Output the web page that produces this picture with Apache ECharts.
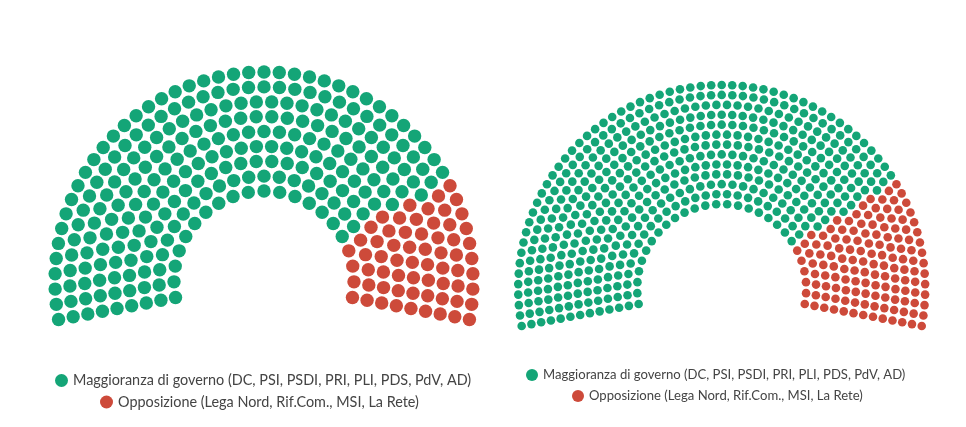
<!DOCTYPE html>
<html>
<head>
<meta charset="utf-8">
<script src="https://cdn.jsdelivr.net/npm/echarts@6/dist/echarts.min.js"></script>
<style>
html,body{margin:0;padding:0;background:#fff;}
#chart{width:966px;height:427px;}
</style>
</head>
<body>
<div id="chart"></div>
<script>
// ---- Data ----
const categories = [
  'Maggioranza di governo (DC, PSI, PSDI, PRI, PLI, PDS, PdV, AD)',
  'Opposizione (Lega Nord, Rif.Com., MSI, La Rete)'
];
const senatoSeats = [251, 64];   // Senato: 315 seggi
const cameraSeats = [494, 136];  // Camera: 630 seggi
const senatoRows = 9;
const cameraRows = 13;

// ---- Style ----
const colors = ['#14a577', '#cd4a3a'];
const OVER = 10.6;            // degrees below horizontal on each side
const START = 180 + OVER, SPAN = 180 + 2 * OVER;

function layout(seats, rows, innerRatio) {
  const total = seats.reduce((a, b) => a + b, 0);
  const radii = [];
  for (let i = 0; i < rows; i++) radii.push(innerRatio + (1 - innerRatio) * i / (rows - 1));
  const sumR = radii.reduce((a, b) => a + b, 0);
  const raw = radii.map(r => total * r / sumR);
  const counts = raw.map(Math.floor);
  let rest = total - counts.reduce((a, b) => a + b, 0);
  const order = raw.map((v, i) => [v - Math.floor(v), i]).sort((a, b) => b[0] - a[0]);
  for (let k = 0; k < rest; k++) counts[order[k][1]]++;
  const pts = [];
  radii.forEach((r, i) => {
    const n = counts[i];
    for (let j = 0; j < n; j++) pts.push([r, START - SPAN * j / (n - 1)]);
  });
  pts.sort((a, b) => (b[1] - a[1]) || (a[0] - b[0]));
  const groups = [];
  let idx = 0;
  seats.forEach(c => { groups.push(pts.slice(idx, idx + c)); idx += c; });
  return groups;
}

const senato = layout(senatoSeats, senatoRows, 90 / 209);
const camera = layout(cameraSeats, cameraRows, 84.5 / 203.5);

const hiddenAngle = i => ({polarIndex: i, type: 'value', min: 0, max: 360, startAngle: 0, clockwise: false,
  axisLine: {show: false}, axisTick: {show: false}, axisLabel: {show: false}, splitLine: {show: false}});
const hiddenRadius = i => ({polarIndex: i, type: 'value', min: 0, max: 1,
  axisLine: {show: false}, axisTick: {show: false}, axisLabel: {show: false}, splitLine: {show: false}});

const series = [];
[[senato, 0, 13.4], [camera, 1, 8.6]].forEach(([groups, pi, size]) => {
  groups.forEach((g, k) => series.push({
    type: 'scatter', coordinateSystem: 'polar', polarIndex: pi, name: categories[k],
    data: g, symbol: 'circle', symbolSize: size, itemStyle: {color: colors[k], opacity: 1}, silent: true
  }));
});

function leg(name, left, cy, size, fs) {
  return {data: [name], left: left, top: cy - size / 2, padding: 0, itemWidth: size, itemHeight: size,
    icon: 'circle', selectedMode: false,
    textStyle: {fontFamily: 'Lato', fontSize: fs, color: '#444'}};
}

const chart = echarts.init(document.getElementById('chart'), null, {renderer: 'canvas'});
chart.setOption({
  animation: false,
  backgroundColor: '#fff',
  polar: [{center: [264, 281], radius: 209}, {center: [721.7, 288.5], radius: 203.5}],
  angleAxis: [hiddenAngle(0), hiddenAngle(1)],
  radiusAxis: [hiddenRadius(0), hiddenRadius(1)],
  legend: [
    leg(categories[0], 55, 380, 13, 14.4),
    leg(categories[1], 100, 401.5, 13, 14.4),
    leg(categories[0], 526, 374.5, 12, 13.1),
    leg(categories[1], 572, 395.5, 12, 13.1)
  ],
  series: series
});
</script>
</body>
</html>
